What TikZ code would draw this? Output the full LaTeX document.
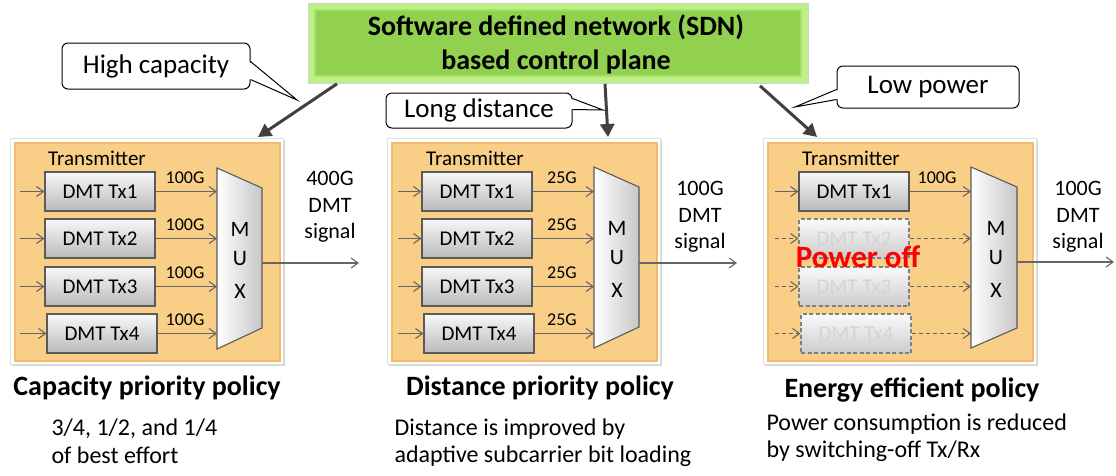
\documentclass[tikz,border=0pt]{standalone}
\usepackage{fontspec}
\setmainfont{Carlito}
\usetikzlibrary{arrows.meta,calc,shadows}
\definecolor{txline}{HTML}{5A5A5A}
\definecolor{sigc}{HTML}{666666}
\definecolor{ctrlc}{HTML}{404040}
\definecolor{orfill}{HTML}{F9CE87}
\definecolor{orline}{HTML}{F2BC67}
\definecolor{grn}{HTML}{92D050}
\definecolor{grnlight}{HTML}{BDF085}
\definecolor{grnedge}{HTML}{A9E070}
\newcommand\fsz[2]{\fontsize{#1}{#2}\selectfont}
\begin{document}
\begin{tikzpicture}[x=1pt,y=-1pt,
 frame/.style={fill=white, draw=black!12, line width=0.8pt, inner sep=0pt, drop shadow={shadow xshift=1.2pt, shadow yshift=-1.5pt, opacity=0.35}},
 orbox/.style={fill=orfill, draw=orline, line width=2pt, inner sep=0pt},
 tx/.style={draw=txline, line width=1.1pt, top color=black!3, bottom color=black!27, minimum width=110pt, minimum height=39pt, inner sep=0pt, font=\fsz{21}{25}},
 txoff/.style={tx, dash pattern=on 4pt off 2.5pt, draw=black!50, top color=black!2, bottom color=black!20, text=black!17},
 sig/.style={draw=sigc, line width=1.1pt, -{Straight Barb[length=7pt,width=10pt]}},
 sigoff/.style={sig, dash pattern=on 4pt off 3pt},
 rate/.style={font=\fsz{18}{21}},
 mux/.style={draw=txline, line width=1.1pt, left color=white, right color=black!22},
 muxl/.style={font=\fsz{22}{26}},
 outtxt/.style={font=\fsz{22}{26.5}, align=center},
 ctrl/.style={draw=ctrlc, line width=3pt, -{Triangle[length=13pt,width=14pt]}},
 callout/.style={draw=black, line width=1pt, fill=white, rounded corners=6pt, inner sep=0pt, font=\fsz{27}{32}},
 tailline/.style={draw=black, line width=1pt, line join=miter},
 title/.style={font=\bfseries\fsz{28}{33}, anchor=base},
 desc/.style={font=\fsz{24}{28}, anchor=base west},
 trans/.style={font=\fsz{21}{25}}
]
\useasboundingbox (0,0) rectangle (1116,475);

% ---------- SDN control plane ----------
\node[fill=grnlight, draw=black!18, line width=0.8pt, minimum width=500pt, minimum height=80pt, inner sep=0pt, anchor=north west] (sdnbg) at (308,3) {};
\node[fill=grn, draw=grnedge, line width=2.5pt, minimum width=486pt, minimum height=66pt, inner sep=0pt] (sdnin) at (558,43) {};
\node[font=\bfseries\fsz{28}{34}, align=center] (sdn) at (556,44) {Software defined network (SDN)\\based control plane};

% ---------- Panel 1 ----------
\node[frame, minimum width=273pt, minimum height=226pt, anchor=north west] (f1) at (10,138) {};
\node[orbox, minimum width=265pt, minimum height=218pt, anchor=north west] (o1) at (14,142) {};
\node[trans] (t1) at (97,158) {Transmitter};
\foreach \i/\yy/\xx in {1/191.5/100,2/238.5/100,3/286.5/100,4/333.5/102} {
  \node[tx] (a\i) at (\xx,\yy) {DMT Tx\i};
  \coordinate (ain\i) at (20,\yy);
  \coordinate (amx\i) at (217,\yy);
  \draw[sig] (ain\i) -- (a\i);
  \draw[sig] (a\i) -- (amx\i);
  \node[rate] (ar\i) at (185,\yy-14) {100G};
}
\draw[mux] (217,168) -- (262,188) -- (262,328) -- (217,349) -- cycle;
\node[muxl] (am) at (240,229) {M};
\node[muxl] (au) at (240,259) {U};
\node[muxl] (ax) at (240,291) {X};
\coordinate (aout) at (262,263);
\coordinate (aend) at (359,263);
\draw[sig] (aout) -- (aend);
\node[outtxt] (ao) at (330,207) {400G\\DMT\\signal};

% ---------- Panel 2 ----------
\begin{scope}[xshift=377pt]
\node[frame, minimum width=273pt, minimum height=226pt, anchor=north west] (f2) at (10,138) {};
\node[orbox, minimum width=265pt, minimum height=218pt, anchor=north west] (o2) at (14,142) {};
\node[trans] (t2) at (98,158) {Transmitter};
\foreach \i/\yy/\xx in {1/191.5/100,2/238.5/100,3/286.5/100,4/333.5/102} {
  \node[tx] (b\i) at (\xx,\yy) {DMT Tx\i};
  \coordinate (bin\i) at (21,\yy);
  \coordinate (bmx\i) at (217,\yy);
  \draw[sig] (bin\i) -- (b\i);
  \draw[sig] (b\i) -- (bmx\i);
  \node[rate] (br\i) at (185,\yy-14) {25G};
}
\draw[mux] (217,167) -- (262,187) -- (262,327) -- (217,348) -- cycle;
\node[muxl] (bm) at (240,228) {M};
\node[muxl] (bu) at (240,258) {U};
\node[muxl] (bx) at (240,290) {X};
\coordinate (bout) at (262,263);
\coordinate (bend) at (360,263);
\draw[sig] (bout) -- (bend);
\node[outtxt] (bo) at (323,217) {100G\\DMT\\signal};
\end{scope}

% ---------- Panel 3 ----------
\begin{scope}[xshift=753pt]
\node[frame, minimum width=273pt, minimum height=226pt, anchor=north west] (f3) at (10,138) {};
\node[orbox, minimum width=265pt, minimum height=218pt, anchor=north west] (o3) at (14,142) {};
\node[trans] (t3) at (98,158) {Transmitter};
\node[tx] (c1) at (101,191.5) {DMT Tx1};
\coordinate (cin1) at (22,191.5);
\coordinate (cmx1) at (218,191.5);
\draw[sig] (cin1) -- (c1);
\draw[sig] (c1) -- (cmx1);
\node[rate] (cr1) at (184,177.5) {100G};
\foreach \i/\yy/\xx in {2/238.5/101,3/286.5/101,4/333.5/103} {
  \node[txoff] (c\i) at (\xx,\yy) {DMT Tx\i};
  \coordinate (cin\i) at (22,\yy);
  \coordinate (cmx\i) at (218,\yy);
  \draw[sigoff] (cin\i) -- (c\i);
  \draw[sigoff] (c\i) -- (cmx\i);
}
\draw[mux] (218,167) -- (264,187) -- (264,328) -- (218,348) -- cycle;
\node[muxl] (cm) at (243,228) {M};
\node[muxl] (cu) at (243,258) {U};
\node[muxl] (cx) at (243,290) {X};
\coordinate (cout) at (264,262);
\coordinate (cend) at (361,262);
\draw[sig] (cout) -- (cend);
\node[outtxt] (co) at (325,217) {100G\\DMT\\signal};
\node[font=\bfseries\fsz{31}{36}, text=red] (poff) at (105,257) {Power off};
\end{scope}

% ---------- control arrows ----------
\draw[ctrl] ($(sdnbg.south west)+(29,0)$) -- ($(f1.north west)+(248,-1)$);
\draw[ctrl] ($(sdnbg.south west)+(297,0)$) -- ($(f2.north west)+(221,-1)$);
\draw[ctrl] ($(sdnbg.south west)+(452,2)$) -- ($(f3.north west)+(54,-1)$);

% ---------- callouts ----------
\node[callout, minimum width=188pt, minimum height=46pt] (hc) at (156,66) {High capacity};
\coordinate (hctip) at (297,100);
\fill[white] ($(hc.north east)+(-1.5,19.5)$) -- (hctip) -- ($(hc.north east)+(-1.5,36.5)$) -- cycle;
\draw[tailline] ($(hc.north east)+(0,19)$) -- (hctip) -- ($(hc.north east)+(0,37)$);

\node[callout, minimum width=186pt, minimum height=35pt] (ld) at (479,110.5) {Long distance};
\coordinate (ldtip) at (603,110);
\fill[white] ($(ld.north east)+(-1.5,6.5)$) -- (ldtip) -- ($(ld.north east)+(-1.5,16.5)$) -- cycle;
\draw[tailline] ($(ld.north east)+(0,6)$) -- (ldtip) -- ($(ld.north east)+(0,17)$);

\node[callout, minimum width=182pt, minimum height=42pt] (lp) at (928,87) {Low power};
\coordinate (lptip) at (795,107);
\fill[white] ($(lp.north west)+(1.5,24.5)$) -- (lptip) -- ($(lp.north west)+(1.5,33.5)$) -- cycle;
\draw[tailline] ($(lp.north west)+(0,24)$) -- (lptip) -- ($(lp.north west)+(0,34)$);

% ---------- bottom texts ----------
\node[title] (pol1) at (147,395) {Capacity priority policy};
\node[desc] (d1a) at (48,435) {3/4, 1/2, and 1/4};
\node[desc] (d1b) at (48,463) {of best effort};
\node[title] (pol2) at (540,395) {Distance priority policy};
\node[desc] (d2a) at (391,435) {Distance is improved by};
\node[desc] (d2b) at (391,462) {adaptive subcarrier bit loading};
\node[title] (pol3) at (912,397) {Energy efficient policy};
\node[desc] (d3a) at (763,430) {Power consumption is reduced};
\node[desc] (d3b) at (763,457) {by switching-off Tx/Rx};
\end{tikzpicture}
\end{document}
